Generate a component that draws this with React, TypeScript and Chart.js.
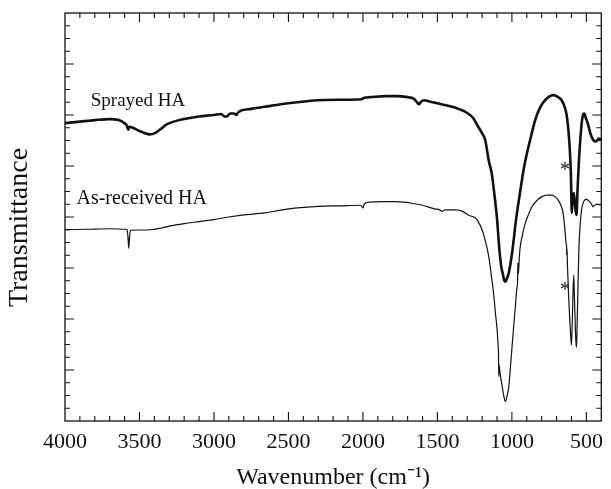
import React, { useEffect, useRef } from "react";
import { Chart, registerables } from "chart.js";

Chart.register(...registerables);

// ---- axis values ----
const X_MIN = 400;
const X_MAX = 4000;
const X_TICKS = [4000, 3500, 3000, 2500, 2000, 1500, 1000, 500];
const X_MINOR_STEP = 100;
const X_MAJOR_STEP = 500;
const Y_MIN = 0;
const Y_MAX = 8;
const Y_MAJOR_STEP = 1;
const Y_MINOR_STEP = 0.25;

// ---- series: Sprayed HA (thick) ----
const WN_SPRAYED = [
  4000, 3900, 3800, 3700, 3640, 3600, 3585, 3575, 3568, 3545, 3510, 3470, 3430, 3400, 3360, 3320, 3280,
  3200, 3100, 3000, 2950, 2930, 2915, 2890, 2865, 2850, 2835, 2750, 2660, 2550, 2440, 2310, 2150, 2010,
  1990, 1950, 1850, 1780, 1700, 1660, 1640, 1625, 1610, 1590, 1560, 1500, 1460, 1400, 1350, 1300, 1260,
  1228, 1200, 1180, 1155, 1135, 1121, 1110, 1099, 1088, 1080, 1070, 1062, 1052, 1043, 1033, 1021, 1010,
  999, 988, 977, 960, 943, 920, 899, 870, 844, 810, 777, 750, 722, 695, 666, 645, 633, 624, 617, 610,
  604, 598, 592, 585, 578, 571, 566, 560, 551, 540, 529, 520, 513, 505, 491, 473, 456, 440, 428, 418, 400,
];
const T_SPRAYED = [
  5.84, 5.87, 5.9, 5.92, 5.9, 5.84, 5.79, 5.71, 5.77, 5.75, 5.7, 5.65, 5.62, 5.64, 5.72, 5.81, 5.86,
  5.92, 5.97, 6.0, 6.02, 5.97, 5.97, 6.03, 6.03, 6.0, 6.06, 6.12, 6.16, 6.21, 6.25, 6.29, 6.3, 6.31,
  6.34, 6.35, 6.37, 6.37, 6.35, 6.32, 6.26, 6.21, 6.26, 6.29, 6.27, 6.23, 6.2, 6.16, 6.11, 6.04, 5.94,
  5.78, 5.64, 5.52, 5.1, 4.85, 4.53, 4.25, 3.94, 3.5, 3.24, 3.0, 2.9, 2.76, 2.73, 2.8, 2.9, 3.08,
  3.29, 3.55, 3.84, 4.2, 4.53, 4.95, 5.25, 5.6, 5.9, 6.15, 6.29, 6.36, 6.39, 6.36, 6.29, 6.15, 6.01, 5.8, 5.57, 5.25,
  4.85, 4.08, 4.35, 4.47, 4.3, 4.1, 4.04, 4.5, 5.05, 5.55, 5.9, 6.02, 6.03, 5.95, 5.84, 5.64, 5.52, 5.48, 5.5, 5.54, 5.51,
];

// ---- series: As-received HA (thin) ----
const WN_RECEIVED = [
  4000, 3850, 3700, 3600, 3583, 3577, 3572, 3567, 3560, 3500, 3425, 3360, 3300, 3200, 3100, 3000, 2900,
  2800, 2660, 2540, 2440, 2300, 2150, 2015, 2000, 1990, 1960, 1850, 1780, 1670, 1600, 1520, 1485, 1468,
  1450, 1380, 1330, 1294, 1250, 1230, 1199, 1180, 1155, 1140, 1121, 1110, 1099, 1093, 1090, 1088, 1086,
  1080, 1065, 1055, 1043, 1032, 1021, 1010, 999, 988, 977, 966, 962, 960, 957, 950, 944, 930, 910, 890,
  866, 830, 799, 760, 733, 710, 689, 670, 656, 645, 636, 633, 632, 630, 627, 620, 612, 605, 600, 595,
  590, 585, 580, 574, 569, 566, 562, 556, 550, 544, 536, 529, 515, 500, 490, 478, 465, 456, 445, 433, 415, 400,
];
const T_RECEIVED = [
  3.75, 3.76, 3.77, 3.76, 3.75, 3.6, 3.39, 3.6, 3.74, 3.745, 3.75, 3.78, 3.82, 3.87, 3.91, 3.95, 4.0,
  4.04, 4.08, 4.14, 4.18, 4.21, 4.22, 4.23, 4.18, 4.26, 4.29, 4.3, 4.3, 4.27, 4.23, 4.16, 4.14, 4.11,
  4.14, 4.14, 4.11, 4.04, 3.99, 3.93, 3.74, 3.55, 3.22, 2.9, 2.44, 2.1, 1.78, 1.5, 1.33, 0.87, 1.1,
  0.95, 0.67, 0.5, 0.38, 0.5, 0.67, 1.05, 1.46, 1.85, 2.24, 2.62, 2.72, 3.1, 2.88, 3.22, 3.42, 3.64, 3.88, 4.04,
  4.2, 4.33, 4.4, 4.43, 4.43, 4.4, 4.33, 4.22, 4.07, 3.78, 3.48, 3.42, 3.25, 3.38, 3.05, 2.5, 2.0, 1.65, 1.49, 1.95,
  2.5, 2.86, 2.4, 1.8, 1.5, 1.45, 1.9, 2.7, 3.4, 3.75, 4.05, 4.2, 4.32, 4.35, 4.33, 4.3, 4.25, 4.2, 4.23, 4.25, 4.24, 4.24,
];

// ---- annotations (in data coordinates) ----
const LABEL_TEXTS = ["Sprayed HA", "As-received HA"];
const LABEL_WN = [3827, 3923];
const LABEL_T = [6.18, 4.25];
const STAR_WN = [644, 644];
const STAR_T = [5.0, 2.65];

const FONT = "'Liberation Serif', 'Times New Roman', serif";

const framePlugin = {
  id: "frameTicks",
  afterDatasetsDraw(chart: any) {
    const { ctx, chartArea, scales } = chart;
    const { left, right, top, bottom } = chartArea;
    const xs = scales.x;
    const ys = scales.y;
    ctx.save();
    ctx.strokeStyle = "#111";
    ctx.lineWidth = 1.3;
    ctx.strokeRect(left, top, right - left, bottom - top);
    ctx.lineWidth = 1.1;
    ctx.beginPath();
    for (let v = X_MIN; v <= X_MAX; v += X_MINOR_STEP) {
      const px = xs.getPixelForValue(v);
      if (Math.abs(px - left) < 1 || Math.abs(px - right) < 1) continue;
      const len = v % X_MAJOR_STEP === 0 ? 9 : 5;
      ctx.moveTo(px, bottom);
      ctx.lineTo(px, bottom - len);
      ctx.moveTo(px, top);
      ctx.lineTo(px, top + len);
    }
    for (let v = Y_MIN; v <= Y_MAX + 1e-9; v += Y_MINOR_STEP) {
      const py = ys.getPixelForValue(v);
      if (Math.abs(py - top) < 1 || Math.abs(py - bottom) < 1) continue;
      const major = Math.abs(v / Y_MAJOR_STEP - Math.round(v / Y_MAJOR_STEP)) < 1e-6;
      const len = major ? 9 : 5;
      ctx.moveTo(left, py);
      ctx.lineTo(left + len, py);
      ctx.moveTo(right, py);
      ctx.lineTo(right - len, py);
    }
    ctx.stroke();

    // series labels
    ctx.fillStyle = "#111";
    ctx.textAlign = "left";
    ctx.textBaseline = "alphabetic";
    const sizes = [19, 20];
    LABEL_TEXTS.forEach((t, i) => {
      ctx.font = `${sizes[i]}px ${FONT}`;
      ctx.fillText(t, xs.getPixelForValue(LABEL_WN[i]), ys.getPixelForValue(LABEL_T[i]));
    });

    // asterisks, centred on their glyph
    ctx.font = `20px ${FONT}`;
    ctx.textAlign = "center";
    const m = ctx.measureText("*");
    const off = (m.actualBoundingBoxAscent - m.actualBoundingBoxDescent) / 2;
    STAR_WN.forEach((w, i) => {
      ctx.fillText("*", xs.getPixelForValue(w), ys.getPixelForValue(STAR_T[i]) + off);
    });
    ctx.restore();
  },
};

export default function App() {
  const ref = useRef<HTMLCanvasElement | null>(null);

  useEffect(() => {
    if (!ref.current) return;
    const sprayed = WN_SPRAYED.map((x, i) => ({ x, y: T_SPRAYED[i] }));
    const received = WN_RECEIVED.map((x, i) => ({ x, y: T_RECEIVED[i] }));
    const chart = new Chart(ref.current, {
      type: "line",
      data: {
        datasets: [
          {
            label: "Sprayed HA",
            data: sprayed,
            borderColor: "#111",
            borderWidth: 2.6,
            pointRadius: 0,
            fill: false,
            cubicInterpolationMode: "monotone",
          },
          {
            label: "As-received HA",
            data: received,
            borderColor: "#111",
            borderWidth: 1.2,
            pointRadius: 0,
            fill: false,
            cubicInterpolationMode: "monotone",
          },
        ],
      },
      options: {
        responsive: true,
        maintainAspectRatio: false,
        animation: false,
        layout: { padding: { left: 0, right: 4, top: 13, bottom: 0 } },
        plugins: { legend: { display: false }, tooltip: { enabled: false } },
        scales: {
          x: {
            type: "linear",
            reverse: true,
            min: X_MIN,
            max: X_MAX,
            afterBuildTicks: (s: any) => {
              s.ticks = X_TICKS.map((v) => ({ value: v }));
            },
            ticks: {
              font: { family: FONT, size: 22 },
              color: "#111",
              padding: 8,
              maxRotation: 0,
              autoSkip: false,
              callback: (v: any) => String(v),
            },
            grid: { display: false, drawTicks: false },
            border: { display: false },
            title: {
              display: true,
              text: "Wavenumber (cm\u207B\u00B9)",
              font: { family: FONT, size: 24 },
              color: "#111",
              padding: { top: 0, bottom: -3 },
            },
            afterFit: (s: any) => {
              s.height = 68;
            },
          },
          y: {
            min: Y_MIN,
            max: Y_MAX,
            ticks: { display: false },
            grid: { display: false, drawTicks: false },
            border: { display: false },
            title: {
              display: true,
              text: "Transmittance   ",
              font: { family: FONT, size: 28 },
              color: "#111",
              padding: { top: 3, bottom: 0 },
            },
            afterFit: (s: any) => {
              s.width = 65;
            },
          },
        },
      },
      plugins: [framePlugin],
    } as any);
    return () => chart.destroy();
  }, []);

  return (
    <div style={{ position: "fixed", left: 0, top: 0, width: 611, height: 489, background: "#fff" }}>
      <canvas ref={ref} />
    </div>
  );
}
